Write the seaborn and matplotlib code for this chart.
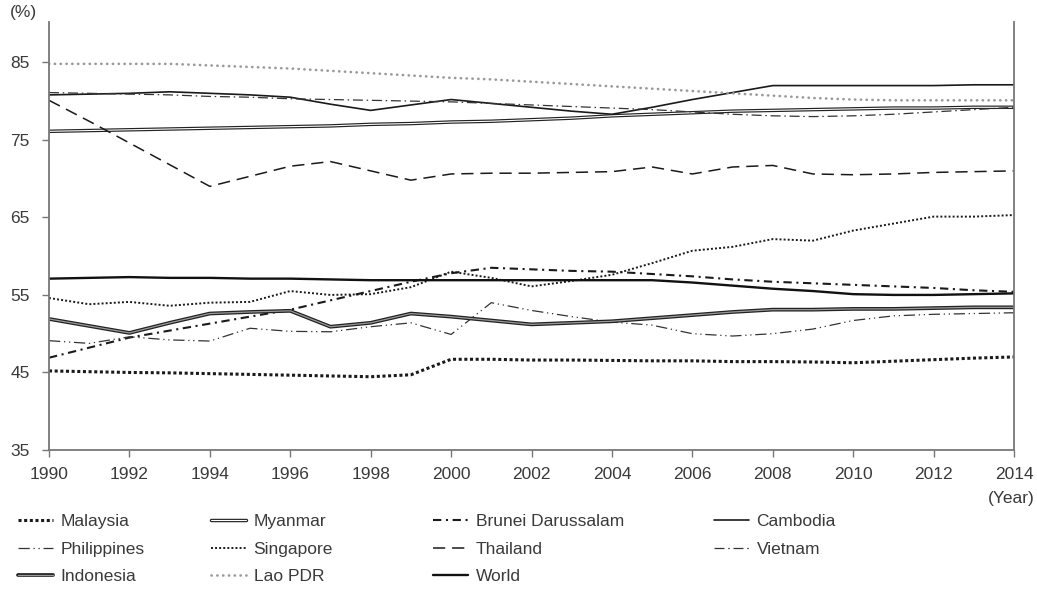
import matplotlib
matplotlib.use("Agg")
import matplotlib.pyplot as plt
import matplotlib.patheffects as pe
import seaborn as sns
import pandas as pd

years = list(range(1990, 2015))
malaysia = [45.2, 45.1, 45.0, 44.95, 44.85, 44.75, 44.65, 44.55, 44.45, 44.7, 46.7, 46.7, 46.6,
            46.6, 46.55, 46.5, 46.5, 46.4, 46.4, 46.35, 46.25, 46.45, 46.65, 46.85, 47.0]
myanmar = [76.1, 76.2, 76.3, 76.4, 76.5, 76.6, 76.7, 76.8, 77.0, 77.1, 77.3, 77.4, 77.6,
           77.8, 78.1, 78.3, 78.5, 78.7, 78.8, 78.9, 79.0, 79.1, 79.1, 79.2, 79.2]
brunei = [46.9, 48.2, 49.5, 50.4, 51.3, 52.2, 53.1, 54.3, 55.5, 56.7, 57.8, 58.5, 58.3,
          58.1, 58.0, 57.7, 57.4, 57.0, 56.7, 56.5, 56.3, 56.1, 55.9, 55.6, 55.4]
cambodia = [80.8, 80.9, 81.0, 81.2, 81.0, 80.8, 80.5, 79.6, 78.8, 79.5, 80.2, 79.7, 79.2,
            78.7, 78.3, 79.2, 80.2, 81.1, 82.0, 82.0, 82.0, 82.0, 82.0, 82.1, 82.1]
philippines = [49.1, 48.75, 49.6, 49.2, 49.05, 50.7, 50.3, 50.25, 50.9, 51.4, 49.9, 54.0, 53.0,
               52.2, 51.5, 51.1, 50.0, 49.7, 50.0, 50.6, 51.7, 52.3, 52.5, 52.6, 52.7]
singapore = [54.6, 53.8, 54.1, 53.6, 54.0, 54.1, 55.5, 55.0, 55.1, 56.0, 58.0, 57.2, 56.1,
             56.8, 57.6, 59.1, 60.7, 61.2, 62.2, 62.0, 63.3, 64.2, 65.1, 65.1, 65.3]
thailand = [80.1, 77.4, 74.6, 71.8, 69.0, 70.3, 71.6, 72.2, 71.0, 69.8, 70.6, 70.7, 70.7,
            70.8, 70.9, 71.5, 70.6, 71.5, 71.7, 70.6, 70.5, 70.6, 70.8, 70.9, 71.0]
vietnam = [81.1, 81.0, 80.9, 80.8, 80.6, 80.5, 80.3, 80.2, 80.1, 80.0, 79.9, 79.7, 79.5,
           79.3, 79.1, 78.9, 78.6, 78.3, 78.1, 78.0, 78.1, 78.3, 78.6, 78.9, 79.2]
indonesia = [51.9, 51.0, 50.1, 51.4, 52.6, 52.8, 52.95, 50.9, 51.4, 52.6, 52.2, 51.7, 51.2,
             51.4, 51.6, 52.0, 52.4, 52.8, 53.1, 53.1, 53.2, 53.2, 53.3, 53.4, 53.4]
lao = [84.8, 84.8, 84.8, 84.8, 84.6, 84.4, 84.2, 83.9, 83.6, 83.3, 83.0, 82.8, 82.5,
       82.2, 81.9, 81.6, 81.3, 81.0, 80.7, 80.4, 80.2, 80.1, 80.1, 80.1, 80.1]
world = [57.1, 57.2, 57.3, 57.2, 57.2, 57.1, 57.1, 57.0, 56.9, 56.9, 56.9, 56.9, 56.9,
         56.9, 56.9, 56.9, 56.6, 56.2, 55.8, 55.5, 55.1, 55.0, 55.0, 55.1, 55.2]

series = {
    "Malaysia": malaysia, "Myanmar": myanmar, "Brunei Darussalam": brunei,
    "Cambodia": cambodia, "Philippines": philippines, "Singapore": singapore,
    "Thailand": thailand, "Vietnam": vietnam, "Indonesia": indonesia,
    "Lao PDR": lao, "World": world,
}
xticks = list(range(1990, 2015, 2))
yticks = [35, 45, 55, 65, 75, 85]

styles = {
    "Malaysia": dict(color="#1a1a1a", lw=2.2, dashes=(1, 0.85)),
    "Myanmar": dict(color="white", lw=0.8, double="#222222", dlw=2.5),
    "Brunei Darussalam": dict(color="#1a1a1a", lw=1.5, dashes=(4, 2.2, 1, 2.2)),
    "Cambodia": dict(color="#1a1a1a", lw=1.2),
    "Philippines": dict(color="#333333", lw=0.9, dashes=(9, 3, 1, 3, 1, 3)),
    "Singapore": dict(color="#1a1a1a", lw=1.4, dashes=(1, 1.1)),
    "Thailand": dict(color="#1a1a1a", lw=1.1, dashes=(8, 4.5)),
    "Vietnam": dict(color="#333333", lw=0.9, dashes=(8, 3, 1.2, 3)),
    "Indonesia": dict(color="#9a9a9a", lw=0.9, double="#222222", dlw=2.7),
    "Lao PDR": dict(color="#9a9a9a", lw=1.9, dashes=(0.1, 2.1), cap="round"),
    "World": dict(color="#111111", lw=1.7),
}

df = pd.DataFrame({"Year": years})
for k, v in series.items():
    df[k] = v

sns.set_theme(style="white")
plt.rcParams["font.family"] = ["Liberation Sans", "DejaVu Sans"]

fig = plt.figure(figsize=(10.37, 5.9), dpi=100)
ax = fig.add_axes([49 / 1037, 1 - 450 / 590, (1014 - 49) / 1037, (450 - 22) / 590])

handles = {}
for name in series:
    st = styles[name]
    sns.lineplot(data=df, x="Year", y=name, ax=ax, color=st["color"], linewidth=st["lw"],
                 legend=False, label=name)
    line = ax.lines[-1]
    if "dashes" in st:
        line.set_dashes(st["dashes"])
        if st.get("cap"):
            line.set_dash_capstyle(st["cap"])
    if "double" in st:
        line.set_path_effects([pe.Stroke(linewidth=st["dlw"], foreground=st["double"]), pe.Normal()])
    handles[name] = line

ax.set_xlim(1990, 2014)
ax.set_ylim(35, 90.2)
ax.set_xticks(xticks)
ax.set_yticks(yticks)
ax.set_xlabel("")
ax.set_ylabel("")
txt = "#3a3a3a"
ax.tick_params(axis="both", direction="out", length=5, width=1.0, color="#777777",
               labelsize=12.5, labelcolor=txt, left=True, bottom=True)
ax.tick_params(axis="y", pad=9)
ax.tick_params(axis="x", pad=7)
for s in ["left", "right", "bottom"]:
    ax.spines[s].set_visible(True)
    ax.spines[s].set_color("#777777")
    ax.spines[s].set_linewidth(1.3)
ax.spines["top"].set_visible(False)
ax.grid(False)

fig.text(10 / 1037, 1 - 13 / 590, "(%)", fontsize=12.5, color=txt, va="center", ha="left")
fig.text(1035 / 1037, 1 - 498 / 590, "(Year)", fontsize=12.5, color=txt, va="center", ha="right")

columns = [
    (["Malaysia", "Philippines", "Indonesia"], 18),
    (["Myanmar", "Singapore", "Lao PDR"], 211),
    (["Brunei Darussalam", "Thailand", "World"], 433),
    (["Cambodia", "Vietnam"], 714),
]
for names, xpx in columns:
    fig.legend([handles[n] for n in names], names, loc="upper left",
               bbox_to_anchor=(xpx / 1037, 1 - 514 / 590), frameon=False,
               fontsize=12.5, labelcolor=txt, handlelength=2.0, handletextpad=0.45,
               labelspacing=0.72, borderpad=0, borderaxespad=0)

fig.savefig("out.png", dpi=100)
